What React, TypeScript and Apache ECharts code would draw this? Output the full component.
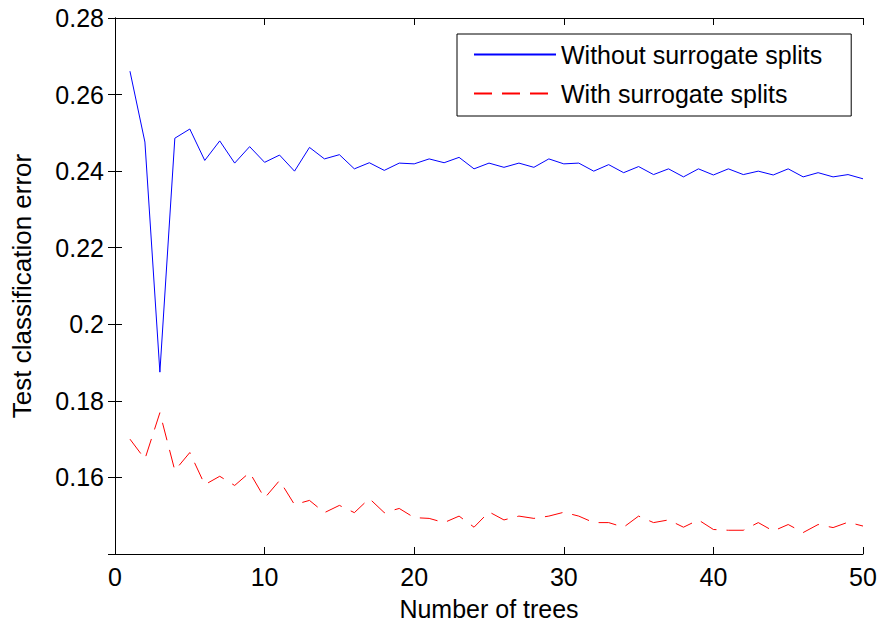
import React, { useEffect, useRef } from "react";
import * as echarts from "echarts";

const trees = [
  1, 2, 3, 4, 5, 6, 7, 8, 9, 10, 11, 12, 13, 14, 15, 16, 17, 18, 19, 20, 21, 22, 23, 24, 25,
  26, 27, 28, 29, 30, 31, 32, 33, 34, 35, 36, 37, 38, 39, 40, 41, 42, 43, 44, 45, 46, 47, 48, 49, 50,
];

const withoutSurrogate = [
  0.2661, 0.2476, 0.1875, 0.2486, 0.251, 0.2428, 0.2479, 0.2421, 0.2464, 0.2423,
  0.2442, 0.24, 0.2462, 0.2432, 0.2443, 0.2406, 0.2422, 0.2402, 0.2421, 0.2419,
  0.2432, 0.2422, 0.2436, 0.2406, 0.2421, 0.241, 0.2421, 0.241, 0.2432, 0.2419,
  0.2421, 0.24, 0.2417, 0.2396, 0.2412, 0.2391, 0.2406, 0.2385, 0.2406, 0.239,
  0.2406, 0.2391, 0.24, 0.239, 0.2406, 0.2385, 0.2396, 0.2385, 0.2391, 0.238,
];

const withSurrogate = [
  0.17, 0.1648, 0.1769, 0.1618, 0.1665, 0.1581, 0.1603, 0.1579, 0.1613, 0.1546,
  0.1592, 0.1529, 0.154, 0.1508, 0.1527, 0.1508, 0.1545, 0.1508, 0.1519, 0.1495,
  0.1493, 0.1482, 0.1499, 0.147, 0.151, 0.1489, 0.1499, 0.1493, 0.1499, 0.1509,
  0.1499, 0.1482, 0.1482, 0.147, 0.1499, 0.1482, 0.1489, 0.147, 0.1489, 0.1464,
  0.1462, 0.1462, 0.1482, 0.146, 0.1477, 0.1456, 0.1477, 0.1469, 0.1483, 0.1473,
];

const seriesNames = ["Without surrogate splits", "With surrogate splits"];
const xTitle = "Number of trees";
const yTitle = "Test classification error";

const FONT = "Liberation Sans, Arial, sans-serif";

export default function App() {
  const ref = useRef<HTMLDivElement>(null);

  useEffect(() => {
    if (!ref.current) return;
    const chart = echarts.init(ref.current, null, { renderer: "svg" });
    const axisLine = { show: true, lineStyle: { color: "#000", width: 1 } };
    const axisTick = { show: true, inside: true, length: 7, lineStyle: { color: "#000", width: 1 } };
    const yFmt = (v: number) => (Math.abs(v - 0.14) < 1e-9 ? "" : String(+v.toFixed(2)));
    chart.setOption({
      animation: false,
      backgroundColor: "#fff",
      textStyle: { fontFamily: FONT },
      grid: { left: 115, right: 17, top: 18, bottom: 67, containLabel: false },
      legend: {
        orient: "vertical",
        left: 457,
        top: 34,
        padding: [8, 29, 10, 16],
        itemWidth: 82,
        itemHeight: 14,
        itemGap: 14,
        borderColor: "#000",
        borderWidth: 1,
        backgroundColor: "#fff",
        itemStyle: { opacity: 0 },
        textStyle: { fontFamily: FONT, fontSize: 25, color: "#000", lineHeight: 25 },
        data: seriesNames,
      },
      xAxis: [
        {
          type: "value",
          min: 0,
          max: 50,
          interval: 10,
          axisLine,
          axisTick,
          splitLine: { show: false },
          axisLabel: { color: "#000", fontSize: 25, fontFamily: FONT, margin: 10 },
          name: xTitle,
          nameLocation: "middle",
          nameGap: 42,
          nameTextStyle: { color: "#000", fontSize: 25, fontFamily: FONT, verticalAlign: "top" },
        },
        {
          type: "value",
          position: "top",
          min: 0,
          max: 50,
          interval: 10,
          axisLine,
          axisTick,
          splitLine: { show: false },
          axisLabel: { show: false },
        },
      ],
      yAxis: [
        {
          type: "value",
          min: 0.14,
          max: 0.28,
          interval: 0.02,
          axisLine,
          axisTick,
          splitLine: { show: false },
          axisLabel: { color: "#000", fontSize: 25, fontFamily: FONT, margin: 11, formatter: yFmt },
          name: yTitle,
          nameLocation: "middle",
          nameGap: 80,
          nameTextStyle: { color: "#000", fontSize: 26, fontFamily: FONT },
        },
        {
          type: "value",
          position: "right",
          min: 0.14,
          max: 0.28,
          interval: 0.02,
          axisLine,
          axisTick,
          splitLine: { show: false },
          axisLabel: { show: false },
        },
      ],
      series: [
        {
          name: seriesNames[0],
          type: "line",
          data: trees.map((t, i) => [t, withoutSurrogate[i]]),
          showSymbol: false,
          symbol: "none",
          lineStyle: { color: "#0000ff", width: 1 },
          itemStyle: { color: "#0000ff" },
        },
        {
          name: seriesNames[1],
          type: "line",
          data: trees.map((t, i) => [t, withSurrogate[i]]),
          showSymbol: false,
          symbol: "none",
          lineStyle: { color: "#ff0000", width: 1, type: [18, 10] },
          itemStyle: { color: "#ff0000" },
        },
      ],
    });
    return () => chart.dispose();
  }, []);

  return (
    <div
      ref={ref}
      style={{ position: "fixed", left: 0, top: 0, width: 880, height: 626, background: "#fff" }}
    />
  );
}
